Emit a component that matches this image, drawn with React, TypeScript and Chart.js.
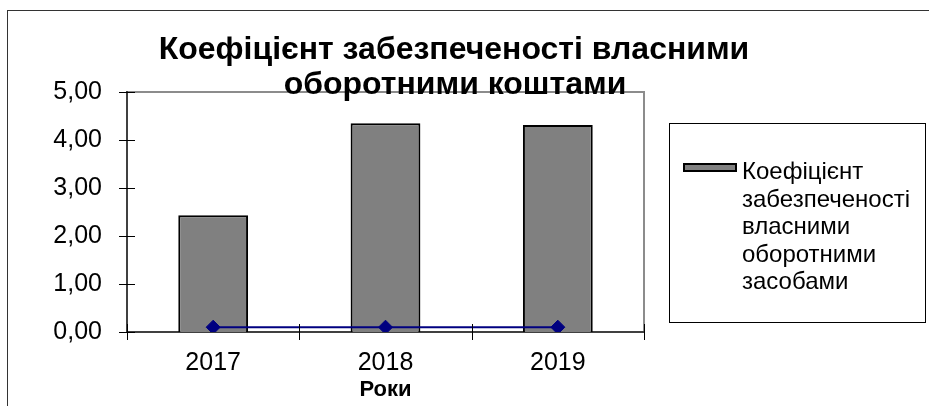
import React, { useEffect, useRef } from "react";
import { Chart, registerables } from "chart.js";

Chart.register(...registerables);

const years = ["2017", "2018", "2019"];
const barValues = [2.43, 4.35, 4.31];
const lineValues = [0.1, 0.1, 0.1];
const yMin = 0;
const yMax = 5;
const yStep = 1;
const titleLines = ["Коефіцієнт забезпеченості власними", "оборотними коштами"];
const legendLines = ["Коефіцієнт", "забезпеченості", "власними", "оборотними", "засобами"];
const xAxisTitle = "Роки";
const barLabel = "Коефіцієнт забезпеченості власними оборотними засобами";

const FONT = '"Liberation Sans", Arial, sans-serif';

const decorPlugin = {
  id: "decor",
  beforeDraw(chart: any) {
    const { ctx, chartArea: a } = chart;
    ctx.save();
    ctx.fillStyle = "#ffffff";
    ctx.fillRect(0, 0, chart.width, chart.height);
    ctx.strokeStyle = "#8c8c8c";
    ctx.lineWidth = 2;
    ctx.strokeRect(a.left, a.top, a.right - a.left, a.bottom - a.top);
    ctx.restore();
  },
  afterDraw(chart: any) {
    const { ctx, chartArea: a } = chart;
    const xs = chart.scales.x;
    const ys = chart.scales.y;
    ctx.save();
    ctx.strokeStyle = "#333333";
    ctx.lineWidth = 1;
    ctx.strokeRect(7.5, 10.5, 3000, 3000);

    ctx.strokeStyle = "#000000";
    ctx.lineWidth = 1;
    ys.ticks.forEach((_t: any, i: number) => {
      const y = Math.round(ys.getPixelForTick(i)) + 0.5;
      ctx.beginPath();
      ctx.moveTo(a.left - 8, y);
      ctx.lineTo(a.left + 8, y);
      ctx.stroke();
    });
    const n = xs.ticks.length;
    for (let i = 0; i <= n; i++) {
      let x: number;
      if (i === 0) x = a.left;
      else if (i === n) x = a.right;
      else x = (xs.getPixelForTick(i - 1) + xs.getPixelForTick(i)) / 2;
      x = Math.round(x) + 0.5;
      ctx.beginPath();
      ctx.moveTo(x, a.bottom - 8);
      ctx.lineTo(x, a.bottom + 8);
      ctx.stroke();
    }

    ctx.fillStyle = "#000000";
    ctx.font = `bold 32px ${FONT}`;
    ctx.textAlign = "center";
    ctx.textBaseline = "alphabetic";
    ctx.fillText(titleLines[0], 454, 59);
    ctx.fillText(titleLines[1], 455, 94);

    ctx.strokeStyle = "#000000";
    ctx.lineWidth = 1;
    ctx.strokeRect(669.5, 123.5, 256, 199);
    const ds = chart.data.datasets[1];
    ctx.fillStyle = ds.backgroundColor;
    ctx.fillRect(684, 164, 52, 7);
    ctx.lineWidth = 2;
    ctx.strokeRect(684, 164, 52, 7);
    ctx.fillStyle = "#000000";
    ctx.font = `24px ${FONT}`;
    ctx.textAlign = "left";
    legendLines.forEach((line, i) => {
      ctx.fillText(line, 742, 179 + i * 27.5);
    });
    ctx.restore();
  },
};

export default function App() {
  const ref = useRef<HTMLCanvasElement | null>(null);
  useEffect(() => {
    if (!ref.current) return;
    const chart = new Chart(ref.current, {
      type: "bar",
      data: {
        labels: years,
        datasets: [
          {
            type: "line",
            label: "line",
            data: lineValues,
            borderColor: "#000080",
            backgroundColor: "#000080",
            borderWidth: 2,
            pointStyle: "rectRot",
            pointRadius: 7,
            pointBorderWidth: 1,
            pointBackgroundColor: "#000080",
            pointBorderColor: "#000080",
            order: 0,
          } as any,
          {
            type: "bar",
            label: barLabel,
            data: barValues,
            backgroundColor: "#808080",
            borderColor: "#000000",
            borderWidth: 2,
            barPercentage: 0.405,
            categoryPercentage: 1,
            order: 1,
          } as any,
        ],
      },
      options: {
        animation: false,
        responsive: true,
        maintainAspectRatio: false,
        layout: { padding: { left: 0, top: 92, right: 285, bottom: 0 } },
        plugins: {
          legend: { display: false },
          title: { display: false },
          tooltip: { enabled: false },
        },
        scales: {
          x: {
            offset: true,
            grid: { display: false, drawTicks: false },
            border: { display: true, color: "#404040", width: 2 },
            ticks: {
              color: "#000000",
              font: { family: FONT, size: 25 },
              padding: 16,
              maxRotation: 0,
            },
            title: {
              display: true,
              text: xAxisTitle,
              color: "#000000",
              font: { family: FONT, size: 22, weight: "bold" },
              padding: { top: 0, bottom: 3 },
            },
            afterFit(s: any) {
              s.height = 74;
            },
          },
          y: {
            min: yMin,
            max: yMax,
            grid: { display: false, drawTicks: false },
            border: { display: true, color: "#404040", width: 2 },
            ticks: {
              stepSize: yStep,
              color: "#000000",
              font: { family: FONT, size: 25 },
              padding: 25,
              callback: (v: any) => Number(v).toFixed(2).replace(".", ","),
            },
            afterFit(s: any) {
              s.width = 127;
            },
          },
        },
      },
      plugins: [decorPlugin],
    });
    return () => chart.destroy();
  }, []);
  return (
    <div style={{ position: "fixed", left: 0, top: 0, width: 929, height: 406 }}>
      <canvas ref={ref} />
    </div>
  );
}
